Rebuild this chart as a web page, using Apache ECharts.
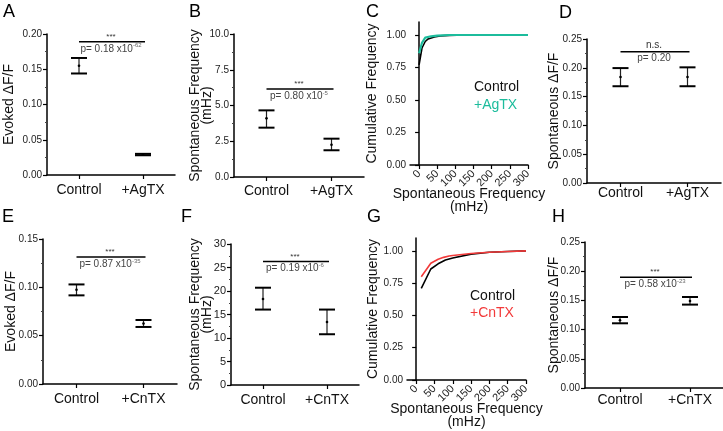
<!DOCTYPE html>
<html>
<head>
<meta charset="utf-8">
<script src="https://cdn.jsdelivr.net/npm/echarts@6/dist/echarts.min.js"></script>
<style>
  html, body { margin: 0; padding: 0; background: #fff; }
  #main { width: 723px; height: 431px; }
</style>
</head>
<body>
<div id="main"></div>
<script>
var catsAg = ['Control', '+AgTX']
var catsCn = ['Control', '+CnTX']

// A: evoked dF/F, AgTX   [mean, low, high]
var evokedAgMean = [0.155, 0.029]
var evokedAgLow = [0.144, 0.028]
var evokedAgHigh = [0.166, 0.030]
// B: spontaneous frequency (mHz), AgTX
var freqAgMean = [4.1, 2.26]
var freqAgLow = [3.45, 1.87]
var freqAgHigh = [4.66, 2.68]
// D: spontaneous dF/F, AgTX
var spontAgMean = [0.184, 0.184]
var spontAgLow = [0.168, 0.168]
var spontAgHigh = [0.1995, 0.2008]
// E: evoked dF/F, CnTX
var evokedCnMean = [0.0975, 0.0625]
var evokedCnLow = [0.0917, 0.059]
var evokedCnHigh = [0.103, 0.0662]
// F: spontaneous frequency, CnTX
var freqCnMean = [18.3, 13.4]
var freqCnLow = [16.05, 10.8]
var freqCnHigh = [20.7, 16.05]
// H: spontaneous dF/F, CnTX
var spontCnMean = [0.116, 0.149]
var spontCnLow = [0.1108, 0.1428]
var spontCnHigh = [0.1216, 0.1558]

// significance bars: height, stars, p mantissa, exponent
var sigY = [0.189, 6.15, 0.228, 0.1314, 26.3, 0.1896]
var sigStars = ['***', '***', 'n.s.', '***', '***', '***']
var sigP = ['0.18', '0.80', '0.20', '0.87', '0.19', '0.58']
var sigExp = ['-62', '-5', '', '-35', '-6', '-23']

// C / G cumulative frequency  [mHz, fraction]
var cumAgControl = [[0, 0.77], [8, 0.9], [17, 0.95], [25, 0.97], [42, 0.985], [58, 0.993], [83, 0.997], [125, 1.0], [300, 1.0]]
var cumAgToxin = [[0, 0.86], [8, 0.94], [17, 0.98], [33, 0.99], [50, 0.995], [83, 1.0], [300, 1.0]]
var cumCnControl = [[14, 0.71], [40, 0.86], [60, 0.9], [80, 0.93], [100, 0.945], [150, 0.975], [200, 0.99], [250, 0.995], [300, 1.0]]
var cumCnToxin = [[14, 0.8], [40, 0.905], [60, 0.935], [75, 0.95], [90, 0.96], [100, 0.965], [150, 0.98], [200, 0.99], [250, 0.995], [300, 1.0]]
var cumTicks = [0, 50, 100, 150, 200, 250, 300]
var cumYTicks = [0, 0.25, 0.5, 0.75, 1.0]

var FONT = 'Liberation Sans, Arial, sans-serif'
var teal = '#1CBC9C'
var red = '#F23A3A'

var grids = [
  {left: 47, top: 34, width: 128, height: 141},   // A
  {left: 234, top: 34, width: 130, height: 143},  // B
  {left: 410, top: 22, width: 118, height: 143},  // C
  {left: 587, top: 39, width: 134, height: 144},  // D
  {left: 43, top: 239, width: 134, height: 145},  // E
  {left: 231, top: 244, width: 128, height: 141}, // F
  {left: 407, top: 238, width: 119, height: 142}, // G
  {left: 585, top: 242, width: 140, height: 146}  // H
]
grids.forEach(function (g) { g.outerBoundsMode = 'none'; g.containLabel = false })

var xAxes = [], yAxes = [], series = []

function axisBase() {
  return {
    nameMoveOverlap: false,
    axisLine: {show: true, lineStyle: {color: '#000', width: 1.5}},
    axisTick: {show: true, length: 4, lineStyle: {color: '#000', width: 1.2}},
    splitLine: {show: false},
    axisLabel: {color: '#222', fontSize: 10, fontFamily: FONT, margin: 5}
  }
}

function renderErr(params, api) {
  var x = api.value(0)
  var pm = api.coord([x, api.value(1)])
  var pl = api.coord([x, api.value(2)])
  var ph = api.coord([x, api.value(3)])
  var hw = 8
  return {
    type: 'group',
    children: [
      {type: 'line', shape: {x1: pl[0], y1: pl[1], x2: ph[0], y2: ph[1]}, style: {stroke: '#222', lineWidth: 1.2}},
      {type: 'line', shape: {x1: pl[0] - hw, y1: pl[1], x2: pl[0] + hw, y2: pl[1]}, style: {stroke: '#000', lineWidth: 2}},
      {type: 'line', shape: {x1: ph[0] - hw, y1: ph[1], x2: ph[0] + hw, y2: ph[1]}, style: {stroke: '#000', lineWidth: 2}},
      {type: 'circle', shape: {cx: pm[0], cy: pm[1], r: 1.3}, style: {fill: '#000'}}
    ]
  }
}

function errPanel(gi, si, cats, yMax, yInt, digits, yName, nameGap, mean, low, high, labelMargin, yLabelSize) {
  var xa = axisBase()
  xa.type = 'category'
  xa.gridIndex = gi
  xa.data = cats
  xa.axisTick.alignWithLabel = true
  xa.axisLabel.fontSize = 14
  xa.axisLabel.color = '#111'
  xa.axisLabel.margin = labelMargin
  xAxes.push(xa)
  var ya = axisBase()
  ya.type = 'value'
  ya.gridIndex = gi
  ya.min = 0
  ya.max = yMax
  ya.interval = yInt
  ya.minorTick = {show: true, splitNumber: 2, length: 2, lineStyle: {color: '#444'}}
  ya.axisLabel.formatter = function (v) { return v.toFixed(digits) }
  ya.axisLabel.fontSize = yLabelSize
  ya.name = yName
  ya.nameLocation = 'middle'
  ya.nameGap = nameGap
  ya.nameTextStyle = {fontSize: 14, color: '#111', fontFamily: FONT, lineHeight: 12}
  yAxes.push(ya)
  var data = []
  for (var i = 0; i < cats.length; i++) data.push([i, mean[i], low[i], high[i]])
  series.push({
    type: 'custom', xAxisIndex: gi, yAxisIndex: gi, data: data,
    encode: {x: 0, y: [1, 2, 3]}, renderItem: renderErr, silent: true, z: 3
  })
  var k = si
  series.push({
    type: 'custom', xAxisIndex: gi, yAxisIndex: gi, data: [[0, 1, sigY[k]]],
    encode: {x: 0, y: 2}, silent: true, z: 4,
    renderItem: function (params, api) {
      var p0 = api.coord([0, api.value(2)])
      var p1 = api.coord([1, api.value(2)])
      var mid = (p0[0] + p1[0]) / 2
      var pText = sigExp[k] ? '{a|p= ' + sigP[k] + ' x10}{s|' + sigExp[k] + '}' : '{a|p= ' + sigP[k] + '}'
      return {
        type: 'group',
        children: [
          {type: 'line', shape: {x1: p0[0], y1: p0[1], x2: p1[0] + 2, y2: p1[1]}, style: {stroke: '#000', lineWidth: 1.5}},
          {type: 'text', style: {text: sigStars[k], x: mid, y: p0[1] - 1, align: 'center', verticalAlign: 'bottom',
            fontSize: sigStars[k] === '***' ? 8 : 10, fill: '#333', fontFamily: FONT}},
          {type: 'text', style: {text: pText, x: mid, y: p0[1] + 1, align: 'center', verticalAlign: 'top', fill: '#444',
            fontFamily: FONT,
            rich: {a: {fontSize: 10, fill: '#444', lineHeight: 12, fontFamily: FONT},
                   s: {fontSize: 6, fill: '#666', lineHeight: 12, verticalAlign: 'top', padding: [0, 0, 5, 0], fontFamily: FONT}}}}
        ]
      }
    }
  })
}

function cumPanel(gi, ctrl, toxin, toxColor, toxWidth, nameGap) {
  var xa = axisBase()
  xa.type = 'value'
  xa.gridIndex = gi
  xa.min = -25
  xa.max = 300
  xa.axisTick.customValues = cumTicks
  xa.axisLabel.customValues = cumTicks
  xa.axisLabel.rotate = 45
  xa.axisLabel.fontSize = 11
  xa.axisLabel.margin = 7
  xa.name = 'Spontaneous Frequency\n(mHz)'
  xa.nameLocation = 'middle'
  xa.nameGap = 23
  xa.nameTextStyle = {fontSize: 14, color: '#111', fontFamily: FONT, lineHeight: 13, verticalAlign: 'top'}
  xAxes.push(xa)
  var ya = axisBase()
  ya.type = 'value'
  ya.gridIndex = gi
  ya.min = 0
  ya.max = 1.1
  ya.axisTick.customValues = cumYTicks
  ya.axisLabel.customValues = cumYTicks
  ya.axisLabel.formatter = function (v) { return v.toFixed(2) }
  ya.axisLabel.margin = 4
  ya.name = 'Cumulative Frequency'
  ya.nameLocation = 'middle'
  ya.nameGap = nameGap
  ya.nameTextStyle = {fontSize: 14, color: '#111', fontFamily: FONT}
  yAxes.push(ya)
  series.push({type: 'line', xAxisIndex: gi, yAxisIndex: gi, data: ctrl, showSymbol: false, symbol: 'none',
    lineStyle: {color: '#000', width: 1.6}, silent: true, z: 3})
  series.push({type: 'line', xAxisIndex: gi, yAxisIndex: gi, data: toxin, showSymbol: false, symbol: 'none',
    lineStyle: {color: toxColor, width: toxWidth}, silent: true, z: 4})
}

errPanel(0, 0, catsAg, 0.20, 0.05, 2, 'Evoked \u0394F/F', 32, evokedAgMean, evokedAgLow, evokedAgHigh, 8, 10)
errPanel(1, 1, catsAg, 10, 2.5, 1, 'Spontaneous Frequency\n(mHz)', 21, freqAgMean, freqAgLow, freqAgHigh, 7, 10)
cumPanel(2, cumAgControl, cumAgToxin, teal, 2.2, 31)
errPanel(3, 2, catsAg, 0.25, 0.05, 2, 'Spontaneous \u0394F/F', 27, spontAgMean, spontAgLow, spontAgHigh, 3, 10)
errPanel(4, 3, catsCn, 0.15, 0.05, 2, 'Evoked \u0394F/F', 26, evokedCnMean, evokedCnLow, evokedCnHigh, 8, 10)
errPanel(5, 4, catsCn, 30, 5, 0, 'Spontaneous Frequency\n(mHz)', 18, freqCnMean, freqCnLow, freqCnHigh, 8, 11)
cumPanel(6, cumCnControl, cumCnToxin, red, 1.6, 27)
errPanel(7, 5, catsCn, 0.25, 0.05, 2, 'Spontaneous \u0394F/F', 25, spontCnMean, spontCnLow, spontCnHigh, 5, 10)

function letter(t, x, y) {
  return {type: 'text', left: x, top: y, style: {text: t, fontSize: 18, fill: '#000', fontFamily: FONT}}
}
function legendText(t, x, y, color) {
  return {type: 'text', left: x, top: y, style: {text: t, fontSize: 14, fill: color, fontFamily: FONT}}
}

var chart = echarts.init(document.getElementById('main'))
chart.setOption({
  animation: false,
  backgroundColor: '#fff',
  textStyle: {fontFamily: FONT},
  grid: grids,
  xAxis: xAxes,
  yAxis: yAxes,
  series: series,
  graphic: [
    letter('A', 3, 3), letter('B', 189, 3), letter('C', 366, 3), letter('D', 559, 4),
    letter('E', 2, 208), letter('F', 181, 208), letter('G', 367, 208), letter('H', 552, 208),
    legendText('Control', 474, 80, '#111'), legendText('+AgTX', 474, 98, teal),
    legendText('Control', 470, 289, '#111'), legendText('+CnTX', 470, 306, red)
  ]
})
</script>
</body>
</html>
